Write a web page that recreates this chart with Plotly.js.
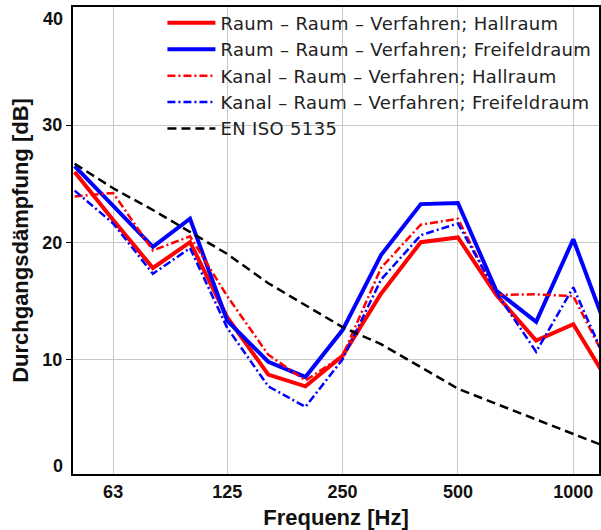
<!DOCTYPE html>
<html>
<head>
<meta charset="utf-8">
<script src="https://cdn.plot.ly/plotly-3.0.1.min.js"></script>
<style>html,body{margin:0;padding:0;background:#fff;}#chart{width:601px;height:530px;}.legendtext{letter-spacing:0.35px;}</style>
</head>
<body>
<div id="chart"></div>
<script>
// Third-octave band centre frequencies [Hz]
const freq = [50, 63, 80, 100, 125, 160, 200, 250, 315, 400, 500, 630, 800, 1000, 1250];

// Durchgangsdämpfung [dB]
const raumHall   = [26.0, 21.9, 17.8, 20.0, 13.6, 8.7, 7.7, 10.3, 15.6, 20.0, 20.4, 15.5, 11.6, 13.0, 7.8];
const raumFrei   = [26.5, 23.1, 19.6, 22.0, 13.3, 9.8, 8.5, 12.5, 18.9, 23.25, 23.35, 15.85, 13.2, 20.25, 11.7];
const kanalHall  = [23.9, 24.2, 19.3, 20.5, 15.4, 10.4, 8.2, 10.3, 17.8, 21.5, 22.0, 15.5, 15.55, 15.4, 9.2];
const kanalFrei  = [24.4, 21.6, 17.3, 19.5, 12.7, 7.7, 5.95, 10.0, 16.8, 20.6, 21.6, 15.7, 10.65, 16.15, 9.0];
const enIso5135  = [26.7, 24.6, 22.75, 20.9, 19.0, 16.5, 14.6, 12.75, 11.3, 9.3, 7.5, 6.2, 4.85, 3.6, 2.4];

const seriesNames = [
  "Raum – Raum – Verfahren; Hallraum",
  "Raum – Raum – Verfahren; Freifeldraum",
  "Kanal – Raum – Verfahren; Hallraum",
  "Kanal – Raum – Verfahren; Freifeldraum",
  "EN ISO 5135"
];

const xTickVals = [63, 125, 250, 500, 1000];
const xTickText = ["63", "125", "250", "500", "1000"];
const yTickVals = [10, 20, 30];
const yTickText = ["10", "20", "30"];
const yEdgeVals = [0, 40];          // edge labels, drawn shifted inward as in the original
const yEdgeText = ["0", "40"];

const xTitle = "Frequenz [Hz]";
const yTitle = "Durchgangsdämpfung [dB]";

const RED = "#ff0000", BLUE = "#0000ff";
const DASHDOT = "8px,3px,2px,3px";

const traces = [
  {x: freq, y: raumHall,  name: seriesNames[0], mode: "lines", line: {color: RED,  width: 4}},
  {x: freq, y: raumFrei,  name: seriesNames[1], mode: "lines", line: {color: BLUE, width: 4}},
  {x: freq, y: kanalHall, name: seriesNames[2], mode: "lines", line: {color: RED,  width: 2.5, dash: DASHDOT}},
  {x: freq, y: kanalFrei, name: seriesNames[3], mode: "lines", line: {color: BLUE, width: 2.5, dash: DASHDOT}},
  {x: freq, y: enIso5135, name: seriesNames[4], mode: "lines", line: {color: "#000000", width: 2.5, dash: "9px,5px"}}
];

const yRange = [0.22, 40.07];
const tickFont = {family: "Liberation Sans, Arial, sans-serif", size: 18, color: "#111", weight: "bold"};
const titleFont = {family: "Liberation Sans, Arial, sans-serif", size: 22, color: "#111", weight: "bold"};

const annotations = yEdgeVals.map((v, i) => ({
  x: 0, xref: "paper", xanchor: "right", xshift: -8,
  y: v === 0 ? v + 0.9 : v - 0.94, yref: "y", yanchor: "middle",
  text: yEdgeText[i], showarrow: false, font: tickFont
}));

const layout = {
  width: 601, height: 530,
  margin: {l: 73, r: 2, t: 7, b: 56},
  paper_bgcolor: "#ffffff", plot_bgcolor: "#ffffff",
  showlegend: true,
  legend: {
    x: 0.17, y: 1.005, xanchor: "left", yanchor: "top",
    bgcolor: "rgba(0,0,0,0)", borderwidth: 0,
    itemwidth: 48,
    font: {family: "DejaVu Sans, sans-serif", size: 18, color: "#222"},
    tracegroupgap: 0
  },
  xaxis: {
    type: "log",
    range: [Math.log10(49.5), Math.log10(1167)],
    tickvals: xTickVals, ticktext: xTickText,
    ticks: "", showgrid: true, gridcolor: "#c8c8c8", gridwidth: 1,
    showline: true, linecolor: "#000", linewidth: 2, mirror: true,
    zeroline: false, tickfont: tickFont,
    title: {text: xTitle, font: titleFont, standoff: 11}
  },
  yaxis: {
    range: yRange,
    tickvals: yTickVals, ticktext: yTickText,
    ticks: "outside", ticklen: 5, tickcolor: "#000", tickwidth: 1,
    showgrid: true, gridcolor: "#c8c8c8", gridwidth: 1,
    showline: true, linecolor: "#000", linewidth: 2, mirror: true,
    zeroline: false, tickfont: tickFont,
    title: {text: yTitle, font: titleFont, standoff: 8}
  },
  annotations: annotations
};

Plotly.newPlot("chart", traces, layout, {displayModeBar: false, staticPlot: true});
</script>
</body>
</html>
